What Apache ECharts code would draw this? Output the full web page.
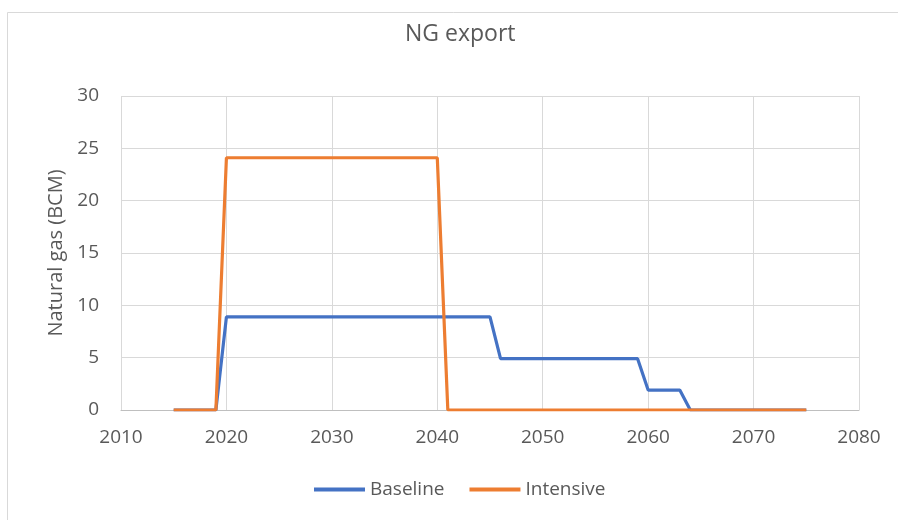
<!DOCTYPE html>
<html>
<head>
<meta charset="utf-8">
<script src="https://cdn.jsdelivr.net/npm/echarts@6/dist/echarts.min.js"></script>
<style>html,body{margin:0;padding:0;background:#fff;}#c{width:898px;height:520px;}</style>
</head>
<body>
<div id="c"></div>
<script>
const years = [2015,2016,2017,2018,2019,2020,2021,2022,2023,2024,2025,2026,2027,2028,2029,2030,2031,2032,2033,2034,2035,2036,2037,2038,2039,2040,2041,2042,2043,2044,2045,2046,2047,2048,2049,2050,2051,2052,2053,2054,2055,2056,2057,2058,2059,2060,2061,2062,2063,2064,2065,2066,2067,2068,2069,2070,2071,2072,2073,2074,2075];
const baseline = [0,0,0,0,0,
  8.9,8.9,8.9,8.9,8.9,8.9,8.9,8.9,8.9,8.9,8.9,8.9,8.9,8.9,8.9,8.9,8.9,8.9,8.9,8.9,8.9,8.9,8.9,8.9,8.9,8.9,
  4.9,4.9,4.9,4.9,4.9,4.9,4.9,4.9,4.9,4.9,4.9,4.9,4.9,4.9,
  1.9,1.9,1.9,1.9,
  0,0,0,0,0,0,0,0,0,0,0,0];
const intensive = [0,0,0,0,0,
  24.1,24.1,24.1,24.1,24.1,24.1,24.1,24.1,24.1,24.1,24.1,24.1,24.1,24.1,24.1,24.1,24.1,24.1,24.1,24.1,24.1,
  0,0,0,0,0,0,0,0,0,0,0,0,0,0,0,0,0,0,0,0,0,0,0,0,0,0,0,0,0,0,0,0,0,0,0];
const seriesNames = ['Baseline','Intensive'];
const titleText = 'NG export';
const yAxisName = 'Natural gas (BCM)';

const FONT = '"Open Sans", sans-serif';
const chart = echarts.init(document.getElementById('c'), null, {renderer:'canvas'});
chart.setOption({
  animation:false,
  backgroundColor:'#fff',
  textStyle:{fontFamily:FONT},
  graphic:[{type:'rect',shape:{x:7.5,y:12.5,width:895,height:515},style:{fill:'none',stroke:'#d9d9d9',lineWidth:1},z:-1}],
  title:{text:titleText,left:400,top:18,textStyle:{fontFamily:FONT,fontSize:23,fontWeight:'normal',color:'#595959'}},
  grid:{left:121,right:39,top:96,bottom:110,containLabel:false},
  legend:{bottom:16,left:309,itemWidth:51,itemHeight:4,itemGap:25,icon:'rect',
    textStyle:{fontFamily:FONT,fontSize:19,color:'#595959'},data:seriesNames},
  xAxis:{type:'value',min:2010,max:2080,interval:10,
    axisLine:{show:true,lineStyle:{color:'#bfbfbf',width:1}},
    axisTick:{show:false},
    splitLine:{show:true,lineStyle:{color:'#d9d9d9',width:1}},
    axisLabel:{fontFamily:FONT,fontSize:19,color:'#595959',margin:18,formatter:v=>String(v)}},
  yAxis:{type:'value',min:0,max:30,interval:5,name:yAxisName,nameLocation:'middle',nameGap:55,
    nameTextStyle:{fontFamily:FONT,fontSize:20,color:'#595959'},
    axisLine:{show:false},axisTick:{show:false},
    splitLine:{show:true,lineStyle:{color:'#d9d9d9',width:1}},
    axisLabel:{fontFamily:FONT,fontSize:19,color:'#595959',margin:22}},
  series:[
    {name:seriesNames[0],type:'line',data:years.map((y,i)=>[y,baseline[i]]),symbol:'none',
      lineStyle:{color:'#4472C4',width:3.2},itemStyle:{color:'#4472C4'}},
    {name:seriesNames[1],type:'line',data:years.map((y,i)=>[y,intensive[i]]),symbol:'none',
      lineStyle:{color:'#ED7D31',width:3.2},itemStyle:{color:'#ED7D31'}}
  ]
});
</script>
</body>
</html>
